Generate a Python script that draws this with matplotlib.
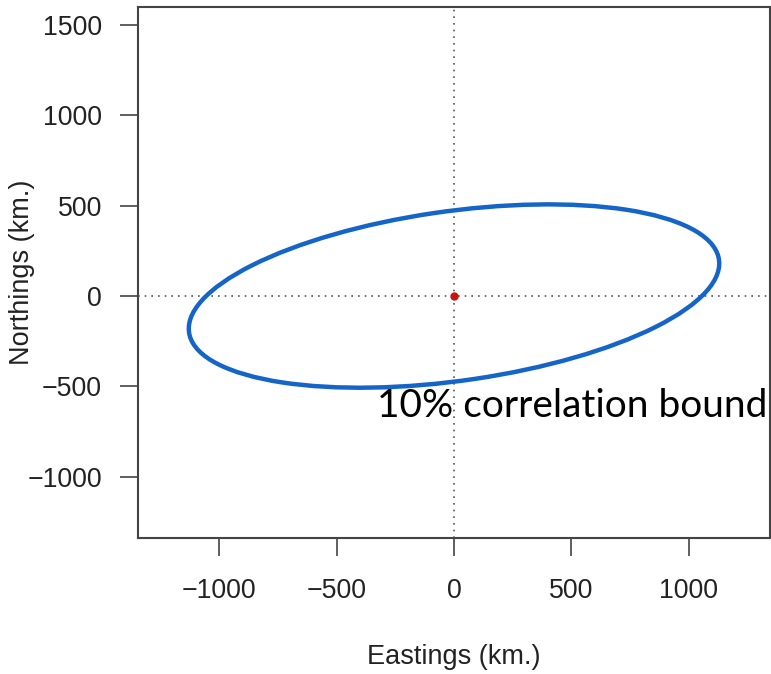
import numpy as np
import matplotlib.pyplot as plt
from matplotlib.patches import Ellipse

# ellipse parameters (km)
centre = (0, 0)
ell_width = 2294
ell_height = 934
ell_angle = 10.9

x_ticks = [-1000, -500, 0, 500, 1000]
y_ticks = [-1000, -500, 0, 500, 1000, 1500]
x_lim = (-1346, 1346)
y_lim = (-1339, 1597)

label_text = '10% correlation bound'
label_pos = (-328, -670)

plt.rcParams['font.family'] = ['Liberation Sans', 'DejaVu Sans']

fig = plt.figure(figsize=(7.71, 6.74), dpi=100)
ax = fig.add_axes([0.179, 0.2018, 0.8197, 0.7871])

ax.axvline(0, color='#555555', linestyle=(0, (1, 3)), lw=1.2, zorder=1)
ax.axhline(0, color='#555555', linestyle=(0, (1, 3)), lw=1.2, zorder=1)

ell = Ellipse(centre, ell_width, ell_height, angle=ell_angle,
              fill=False, edgecolor='#1565c8', lw=3.2, zorder=2)
ax.add_patch(ell)

ax.plot([centre[0]], [centre[1]], 'o', color='#cc1111', ms=5, zorder=3)

ax.text(label_pos[0], label_pos[1], label_text, family=['Lato', 'DejaVu Sans'],
        fontsize=28, va='baseline', ha='left', zorder=4, clip_on=False)

ax.set_xlim(*x_lim)
ax.set_ylim(*y_lim)
ax.set_xticks(x_ticks)
ax.set_yticks(y_ticks)
ax.set_xticklabels([str(v).replace('-', '\u2212') for v in x_ticks])
ax.set_yticklabels([str(v).replace('-', '\u2212') for v in y_ticks])
ax.tick_params(axis='both', length=13, width=1.2, color='#444444',
               labelsize=19.3, labelcolor='#222222')
ax.tick_params(axis='x', pad=16)
ax.tick_params(axis='y', pad=13)
for s in ax.spines.values():
    s.set_linewidth(1.5)
    s.set_color('#444444')

ax.set_xlabel('Eastings (km.)', fontsize=19.5, color='#222222')
ax.set_ylabel('Northings (km.)', fontsize=19.5, color='#222222')
ax.xaxis.set_label_coords(0.5, -0.224)
ax.yaxis.set_label_coords(-0.183, 0.5)
ax.xaxis.label.set_va('center')
ax.yaxis.label.set_va('center')

fig.savefig('out.png', dpi=100)
